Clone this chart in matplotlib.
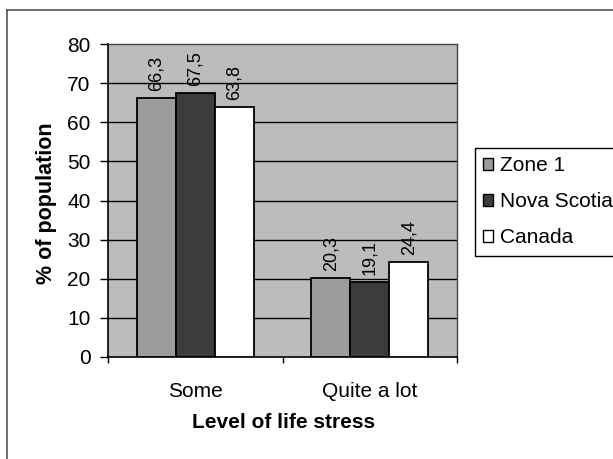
import matplotlib
matplotlib.use('Agg')
import matplotlib.pyplot as plt
from matplotlib.lines import Line2D
import numpy as np

# ---- data ----
categories = ['Some', 'Quite a lot']
series_names = ['Zone 1', 'Nova Scotia', 'Canada']
zone1 = [66.3, 20.3]
nova_scotia = [67.5, 19.1]
canada = [63.8, 24.4]
y_ticks = [0, 10, 20, 30, 40, 50, 60, 70, 80]
y_label = '% of population'
x_label = 'Level of life stress'

plt.rcParams['font.family'] = ['Liberation Sans', 'DejaVu Sans']

W, H = 613, 459
fig = plt.figure(figsize=(W / 100, H / 100), dpi=100)
fig.patch.set_facecolor('white')

# outer chart border (cut off at right and bottom)
fig.add_artist(Line2D([7 / W, 7 / W], [0, 1 - 10 / H], transform=fig.transFigure,
                      color='#555555', lw=1.2))
fig.add_artist(Line2D([7 / W, 1], [1 - 10 / H, 1 - 10 / H], transform=fig.transFigure,
                      color='#555555', lw=1.2))

ax = fig.add_axes([108 / W, 1 - 357 / H, 349 / W, 313 / H])
ax.set_facecolor('#bcbcbc')

x = np.arange(len(categories))
bw = 0.2235
series = [zone1, nova_scotia, canada]
colors = ['#9c9c9c', '#3c3c3c', '#ffffff']
offsets = [-bw, 0, bw]

for vals, name, col, off in zip(series, series_names, colors, offsets):
    bars = ax.bar(x + off, vals, width=bw, color=col, edgecolor='black',
                  linewidth=1.3, label=name, zorder=3)
    for b, v in zip(bars, vals):
        ax.annotate(f'{v:.1f}'.replace('.', ','),
                    (b.get_x() + b.get_width() / 2, v),
                    xytext=(0, 5), textcoords='offset points',
                    rotation=90, ha='center', va='bottom', fontsize=13,
                    color='black', zorder=4)

ax.set_xlim(-0.5, len(categories) - 0.5)
ax.set_ylim(0, 80)
ax.set_yticks(y_ticks)
ax.set_yticklabels([str(t) for t in y_ticks])
for t in y_ticks[1:-1]:
    ax.axhline(t, color='black', lw=1, zorder=1)

ax.set_xticks(x)
ax.set_xticklabels(categories)
ax.set_xticks(np.arange(len(categories) + 1) - 0.5, minor=True)
ax.tick_params(axis='x', which='major', length=0, pad=18, labelsize=15)
ax.tick_params(axis='x', which='minor', length=4.5, width=1, direction='out')
ax.tick_params(axis='y', length=6, width=1, direction='out', pad=6.5, labelsize=15)

for s in ['left', 'bottom']:
    ax.spines[s].set_color('black')
    ax.spines[s].set_linewidth(1.2)
for s in ['top', 'right']:
    ax.spines[s].set_color('#444444')
    ax.spines[s].set_linewidth(1)

fig.text(47 / W, 1 - 203 / H, y_label, rotation=90, ha='center', va='center',
         fontsize=15.5, fontweight='bold')
fig.text(284 / W, 1 - 422 / H, x_label, ha='center', va='center',
         fontsize=15, fontweight='bold')

leg = fig.legend(loc='upper left', bbox_to_anchor=(475 / W, 1 - 148 / H),
                 bbox_transform=fig.transFigure, fontsize=15, frameon=True,
                 fancybox=False, edgecolor='black', framealpha=1,
                 handlelength=0.45, handleheight=0.45, handletextpad=0.35,
                 labelspacing=0.82, borderpad=0.4, borderaxespad=0)
leg.get_frame().set_linewidth(1)
for h in leg.legend_handles:
    h.set_linewidth(1)

fig.savefig('out.png', dpi=100)
